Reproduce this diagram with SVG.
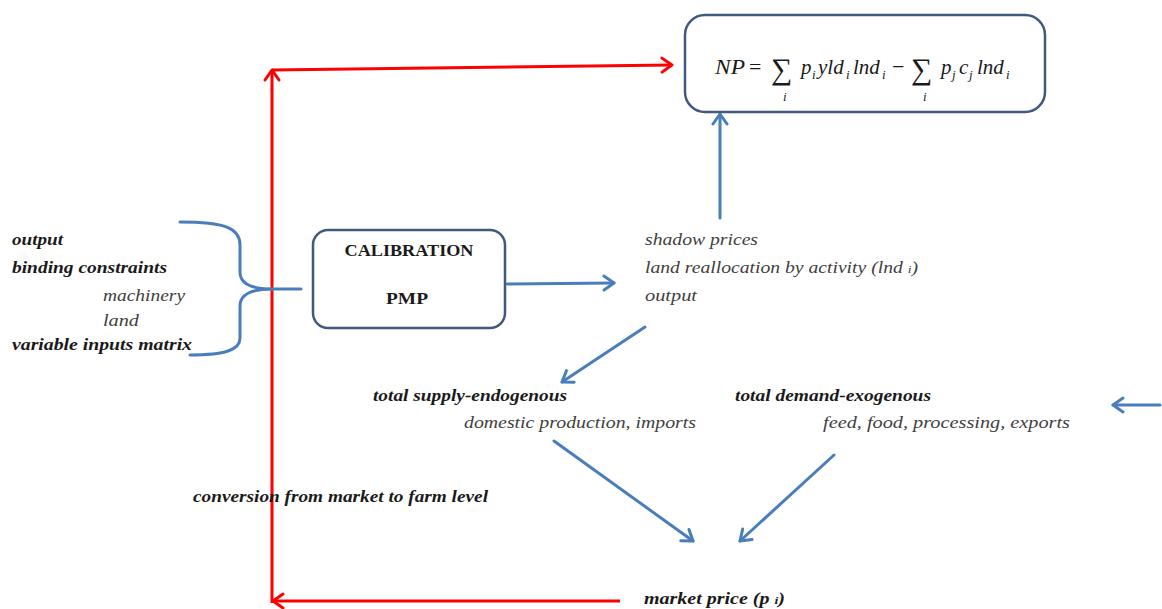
<svg xmlns="http://www.w3.org/2000/svg" width="1162" height="609" viewBox="0 0 1162 609">
<style>
.box{fill:#fff;stroke:#41597f;stroke-width:2.5}
.blue{stroke:#4a7ebb;stroke-width:3;fill:none;stroke-linecap:round}
.red{stroke:#ff0000;stroke-width:3;fill:none}
.bi{font-family:"Liberation Serif",serif;font-style:italic;font-weight:bold;font-size:16px;fill:#1a1a1a}
.it{font-family:"Liberation Serif",serif;font-style:italic;font-size:16px;fill:#404040}
.cal{font-family:"Liberation Serif",serif;font-weight:bold;font-size:17px;fill:#1a1a1a;text-anchor:middle}
.f{font-family:"Liberation Serif",serif;font-style:italic;font-size:21px;fill:#1a1a1a}
.fs{font-family:"Liberation Serif",serif;font-style:italic;font-size:13px;fill:#1a1a1a}
.fn{font-family:"Liberation Serif",serif;font-size:22px;fill:#1a1a1a}
.sum{font-family:"Liberation Serif",serif;font-size:30px;fill:#1a1a1a}
</style>
<defs>
<marker id="ab" markerUnits="userSpaceOnUse" markerWidth="18" markerHeight="18" viewBox="0 0 18 18" refX="15" refY="9" orient="auto">
<path d="M5,2 L15,9 L5,16" fill="none" stroke="#4a7ebb" stroke-width="3" stroke-linecap="round" stroke-linejoin="round"/>
</marker>
<marker id="ar" markerUnits="userSpaceOnUse" markerWidth="18" markerHeight="18" viewBox="0 0 18 18" refX="15" refY="9" orient="auto">
<path d="M5,2 L15,9 L5,16" fill="none" stroke="#ff0000" stroke-width="3" stroke-linecap="round" stroke-linejoin="round"/>
</marker>
</defs>

<g id="connectors">
<path class="red" d="M272,603 L272,70" marker-end="url(#ar)"/>
<path class="red" d="M272,70 L672,65" marker-end="url(#ar)"/>
<path class="red" d="M620,601 L273,601" marker-end="url(#ar)"/>
<path class="blue" d="M180,222 C225,222 240,228 240,245 L240,272 C240,285 255,289 272,289 L301,289"/>
<path class="blue" d="M272,289 C255,289 240,293 240,306 L240,338 C240,350 225,355 190,355"/>
<path class="blue" d="M507,284 L614,283" marker-end="url(#ab)"/>
<path class="blue" d="M720,218 L720,114" marker-end="url(#ab)"/>
<path class="blue" d="M645,327 L562,382" marker-end="url(#ab)"/>
<path class="blue" d="M1160,405 L1113,405" marker-end="url(#ab)"/>
<path class="blue" d="M554,441 L693,541" marker-end="url(#ab)"/>
<path class="blue" d="M834,455 L740,541" marker-end="url(#ab)"/>
</g>

<g id="np-box">
<rect class="box" x="685" y="15" width="360" height="97" rx="20"/>
<text class="f" x="715" y="74" textLength="30" lengthAdjust="spacingAndGlyphs">NP</text>
<text class="fn" x="749" y="74">=</text>
<text class="sum" x="771" y="79">∑</text>
<text class="fs" x="783" y="101">i</text>
<text class="f" x="801" y="74">p</text><text class="fs" x="812" y="79">i</text>
<text class="f" x="818" y="74">yld</text><text class="fs" x="846" y="79">i</text>
<text class="f" x="853" y="74">lnd</text><text class="fs" x="882" y="79">i</text>
<text class="fn" x="892" y="74">−</text>
<text class="sum" x="911" y="79">∑</text>
<text class="fs" x="923" y="101">i</text>
<text class="f" x="941" y="74">p</text><text class="fs" x="952" y="79">j</text>
<text class="f" x="959" y="74">c</text><text class="fs" x="969" y="79">j</text>
<text class="f" x="977" y="74">lnd</text><text class="fs" x="1006" y="79">i</text>
</g>

<g id="calibration">
<rect class="box" x="313" y="230" width="192" height="98" rx="15"/>
<text class="cal" x="409" y="256" textLength="129" lengthAdjust="spacingAndGlyphs">CALIBRATION</text>
<text class="cal" x="407" y="304" textLength="42" lengthAdjust="spacingAndGlyphs">PMP</text>
</g>

<g id="inputs">
<text class="bi" x="12" y="245" textLength="51" lengthAdjust="spacingAndGlyphs">output</text>
<text class="bi" x="12" y="273" textLength="155" lengthAdjust="spacingAndGlyphs">binding constraints</text>
<text class="it" x="103" y="301" textLength="82" lengthAdjust="spacingAndGlyphs">machinery</text>
<text class="it" x="103" y="326" textLength="36" lengthAdjust="spacingAndGlyphs">land</text>
<text class="bi" x="12" y="350" textLength="180" lengthAdjust="spacingAndGlyphs">variable inputs matrix</text>
</g>

<g id="results">
<text class="it" x="645" y="245" textLength="113" lengthAdjust="spacingAndGlyphs">shadow prices</text>
<text class="it" x="645" y="273" textLength="273" lengthAdjust="spacingAndGlyphs">land reallocation by activity (lnd <tspan font-size="11">i</tspan>)</text>
<text class="it" x="645" y="301" textLength="52" lengthAdjust="spacingAndGlyphs">output</text>
</g>

<g id="supply">
<text class="bi" x="373" y="401" textLength="194" lengthAdjust="spacingAndGlyphs">total supply-endogenous</text>
<text class="it" x="464" y="428" textLength="232" lengthAdjust="spacingAndGlyphs">domestic production, imports</text>
</g>

<g id="demand">
<text class="bi" x="735" y="401" textLength="196" lengthAdjust="spacingAndGlyphs">total demand-exogenous</text>
<text class="it" x="823" y="428" textLength="247" lengthAdjust="spacingAndGlyphs">feed, food, processing, exports</text>
</g>

<g id="conversion">
<text class="bi" x="193" y="502" textLength="295" lengthAdjust="spacingAndGlyphs">conversion from market to farm level</text>
</g>

<g id="market-price">
<text class="bi" x="644" y="604" textLength="141" lengthAdjust="spacingAndGlyphs">market price (p <tspan font-size="11">i</tspan>)</text>
</g>
</svg>
